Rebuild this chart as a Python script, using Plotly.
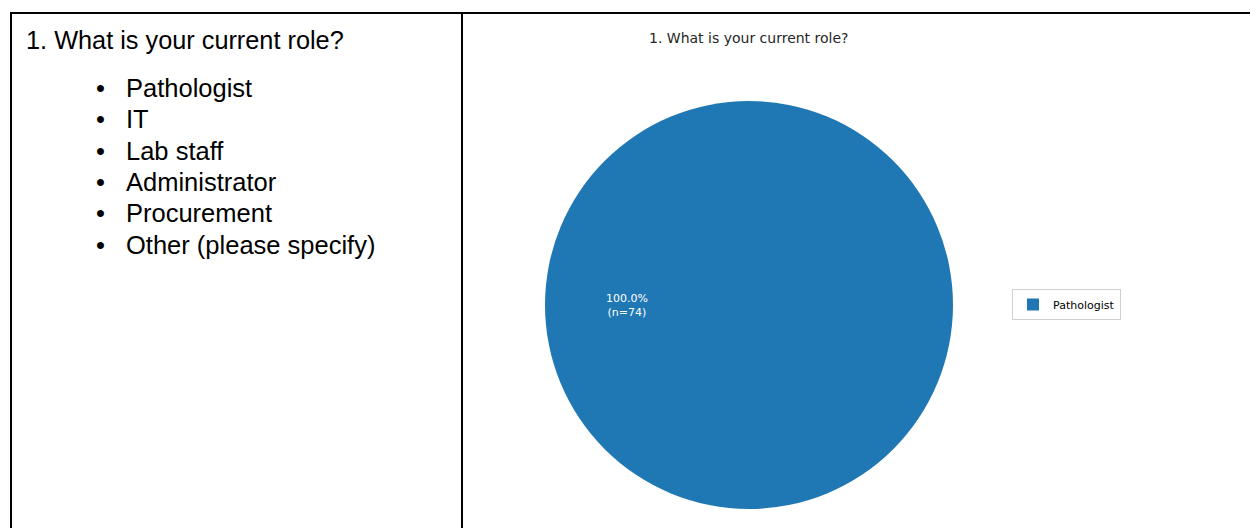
import math
import plotly.graph_objects as go

# ---- data ----
question = "1. What is your current role?"
options = ["Pathologist", "IT", "Lab staff", "Administrator", "Procurement", "Other (please specify)"]
pie_labels = ["Pathologist"]
pie_counts = [74]

W, H = 1258, 528
OFF = 8  # page body margin offset (reference pixel -> figure pixel)
total = sum(pie_counts)


def px(x):
    return (x - OFF) / W


def py(y):
    return 1 - (y - OFF) / H


# pie placement (reference pixels)
pie_left, pie_right, pie_top, pie_bottom = 545, 953, 101, 509

fig = go.Figure()
fig.add_trace(go.Pie(
    labels=pie_labels,
    values=pie_counts,
    marker=dict(colors=["#1f77b4"], line=dict(width=0)),
    textinfo="none",
    hoverinfo="label+value+percent",
    sort=False,
    showlegend=True,
    domain=dict(x=[px(pie_left), px(pie_right)],
                y=[py(pie_bottom), py(pie_top)]),
))

ann = []
# left cell text
ann.append(dict(x=px(24), y=py(39.5), xref="paper", yref="paper", text=question,
                showarrow=False, xanchor="left", yanchor="middle",
                font=dict(family="Liberation Sans, Arial", size=25.3, color="#000000")))
OFONT = dict(family="Liberation Sans, Arial", size=25.5, color="#000000")
for i, opt in enumerate(options):
    yy = py(88 + i * 31.3)
    ann.append(dict(x=px(100.5), y=yy, xref="paper", yref="paper", text="•",
                    showarrow=False, xanchor="center", yanchor="middle", font=OFONT))
    ann.append(dict(x=px(124), y=yy, xref="paper", yref="paper", text=opt,
                    showarrow=False, xanchor="left", yanchor="middle", font=OFONT))

# pie title
cx = (pie_left + pie_right) / 2
cy = (pie_top + pie_bottom) / 2
r = (pie_right - pie_left) / 2
ann.append(dict(x=px(cx), y=py(38.5), xref="paper", yref="paper", text=question,
                showarrow=False, xanchor="center", yanchor="middle",
                font=dict(family="DejaVu Sans", size=14, color="#262626")))

# pie slice label (matplotlib-style, at 0.6 r toward wedge middle angle)
start = 0.0
for lab, n in zip(pie_labels, pie_counts):
    frac = n / total
    mid = math.radians(start + frac * 360 / 2)
    lx = cx + 0.6 * r * math.cos(mid)
    ly = cy - 0.6 * r * math.sin(mid)
    ann.append(dict(x=px(lx), y=py(ly), xref="paper", yref="paper",
                    text=f"{frac * 100:.1f}%<br>(n={n})",
                    showarrow=False, xanchor="center", yanchor="middle",
                    font=dict(family="DejaVu Sans", size=11, color="#ffffff")))
    start += frac * 360

shapes = [
    dict(type="line", xref="paper", yref="paper", x0=px(10), x1=px(1258), y0=py(13), y1=py(13),
         line=dict(color="black", width=2)),
    dict(type="line", xref="paper", yref="paper", x0=px(11), x1=px(11), y0=py(12), y1=0,
         line=dict(color="black", width=2)),
    dict(type="line", xref="paper", yref="paper", x0=px(462), x1=px(462), y0=py(12), y1=0,
         line=dict(color="black", width=2)),
]

fig.update_layout(
    width=W, height=H,
    margin=dict(l=0, r=0, t=0, b=0),
    paper_bgcolor="white", plot_bgcolor="white",
    annotations=ann, shapes=shapes,
    legend=dict(x=px(1012), y=py(289), xanchor="left", yanchor="top",
                bordercolor="#d0d0d0", borderwidth=1, bgcolor="white",
                font=dict(family="DejaVu Sans", size=11, color="#000000")),
)

fig.write_html("out.html")
